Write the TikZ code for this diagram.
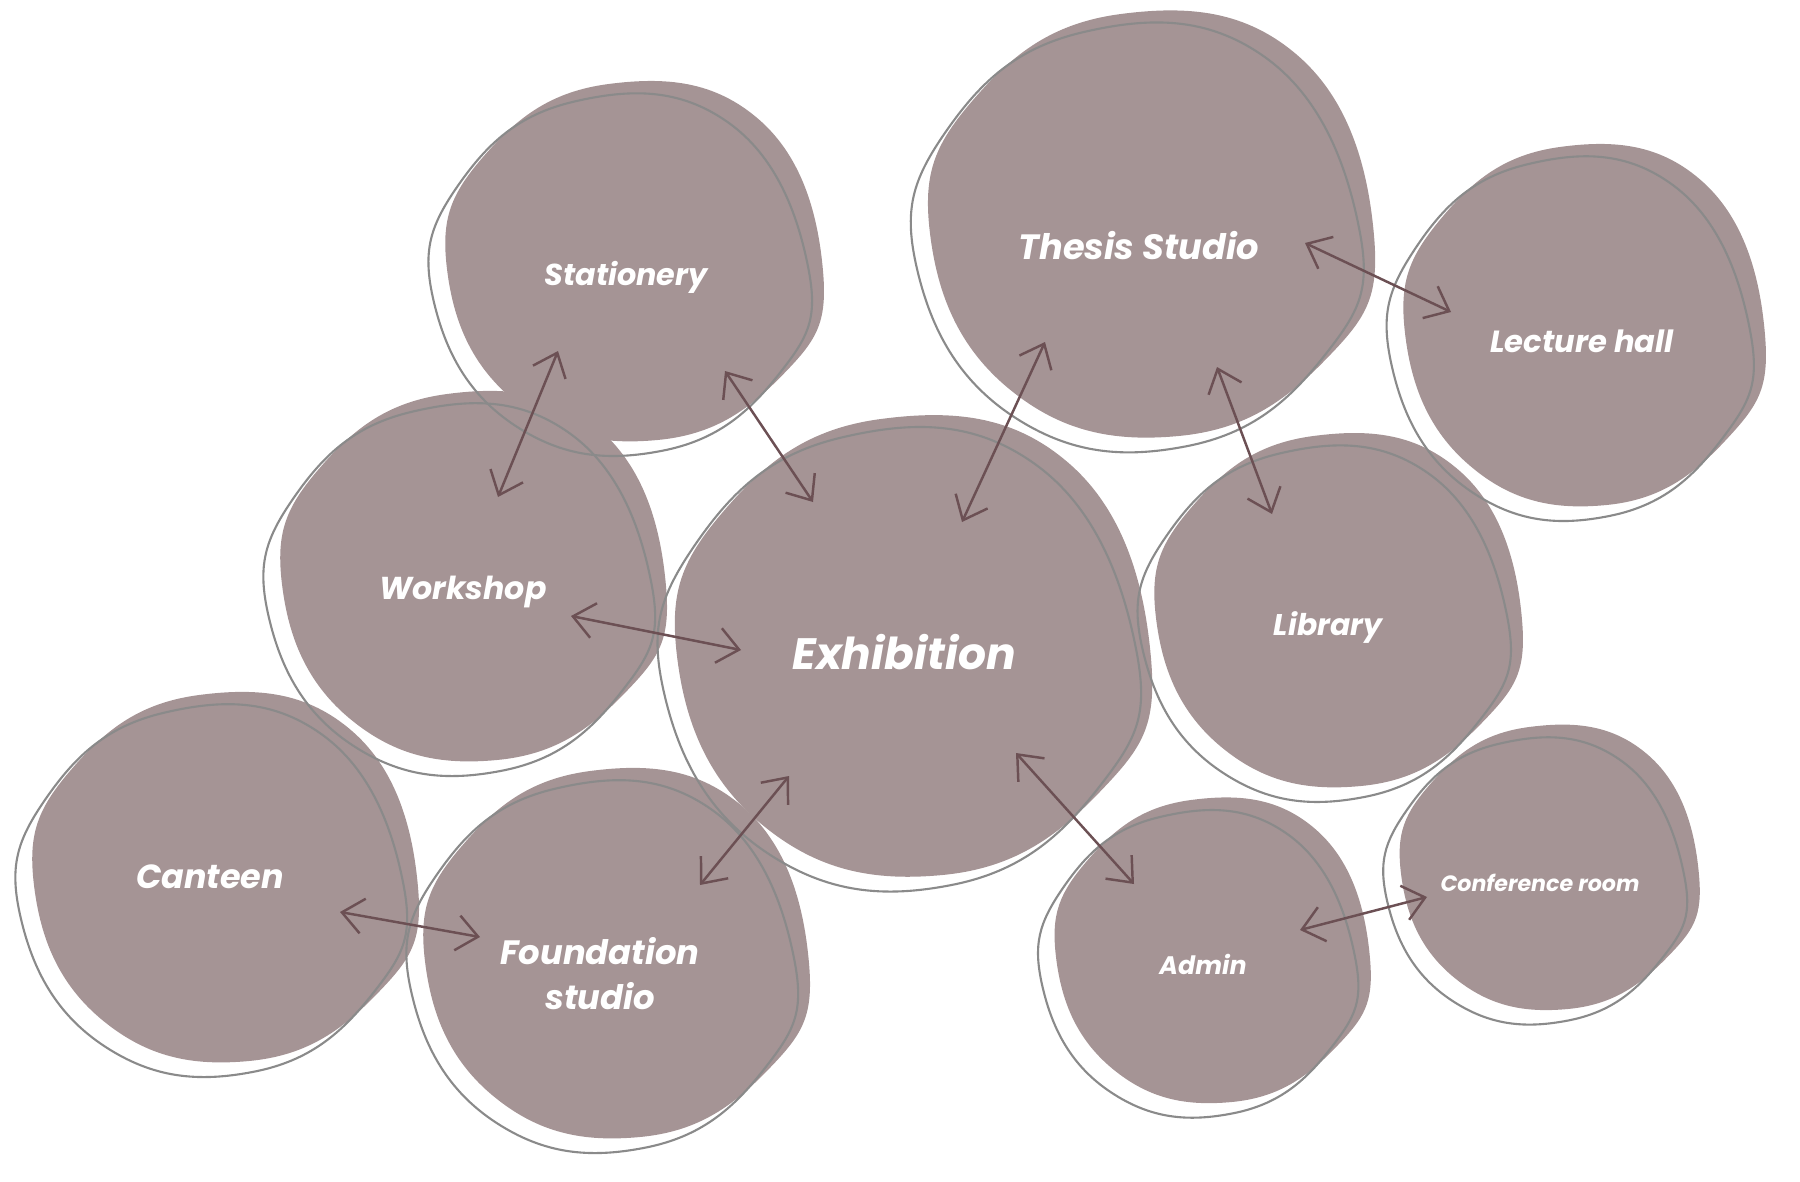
\documentclass[tikz,border=0pt]{standalone}
\usepackage{fontspec}
\setmainfont{Poppins}
\usetikzlibrary{arrows.meta,calc}
\definecolor{blobmauve}{RGB}{165,148,149}
\definecolor{blobgray}{RGB}{138,138,138}
\definecolor{linkbrown}{RGB}{108,80,84}

% one irregular blob, unit size
\newcommand{\blobshape}{plot[smooth cycle,tension=0.75] coordinates
  {(1,0.05) (0.78,0.64) (0.12,1) (-0.64,0.78) (-1,0.04) (-0.8,-0.6) (-0.14,-1) (0.66,-0.8)}}
% #1,#2 centre, #3,#4 radii
\newcommand{\drawblob}[4]{%
  \fill[blobfill,shift={(#1,#2)},xscale=#3,yscale=#4] \blobshape;
}
\newcommand{\drawrim}[4]{%
  \draw[blobrim,shift={(#1-15,#2+14)},xscale=#3,yscale=#4,rotate=6] \blobshape;
}

\begin{document}
\begin{tikzpicture}[x=0.01cm,y=-0.01cm,
  blobfill/.style={fill=blobmauve},
  blobrim/.style={draw=blobgray,line width=0.6pt},
  lbl/.style={text=white,align=center,inner sep=0pt,font=\bfseries\itshape},
  link/.style={draw=linkbrown,line width=0.7pt,{Straight Barb[length=6pt,width=10pt]}-{Straight Barb[length=6pt,width=10pt]}}
]
  \useasboundingbox (0,0) rectangle (1800,1182);

  \drawblob{635}{262}{188}{178}
  \drawblob{1152}{225}{222}{211}
  \drawblob{1585}{326}{180}{179}
  \drawblob{474}{577}{192}{183}
  \drawblob{914}{647}{237}{228}
  \drawblob{1339}{611}{183}{175}
  \drawblob{226}{878}{192}{183}
  \drawblob{617}{954}{192}{183}
  \drawblob{1213}{951}{157}{151}
  \drawblob{1550}{868}{149}{141}

  \drawrim{635}{262}{188}{178}
  \drawrim{1152}{225}{222}{211}
  \drawrim{1585}{326}{180}{179}
  \drawrim{474}{577}{192}{183}
  \drawrim{914}{647}{237}{228}
  \drawrim{1339}{611}{183}{175}
  \drawrim{226}{878}{192}{183}
  \drawrim{617}{954}{192}{183}
  \drawrim{1213}{951}{157}{151}
  \drawrim{1550}{868}{149}{141}

  \node[lbl,font={\fontsize{8.6}{10}\selectfont\bfseries\itshape}] (stationery) at (626,277) {Stationery};
  \node[lbl,font={\fontsize{10}{12}\selectfont\bfseries\itshape}] (thesis) at (1139,246) {Thesis Studio};
  \node[lbl,font={\fontsize{8.7}{10}\selectfont\bfseries\itshape}] (lecture) at (1582,341) {Lecture hall};
  \node[lbl,font={\fontsize{9}{11}\selectfont\bfseries\itshape}] (workshop) at (463,592) {Workshop};
  \node[lbl,font={\fontsize{12.5}{15}\selectfont\bfseries\itshape}] (exhibition) at (904,652) {Exhibition};
  \node[lbl,font={\fontsize{8.5}{10}\selectfont\bfseries\itshape}] (library) at (1328,627) {Library};
  \node[lbl,font={\fontsize{9.5}{11}\selectfont\bfseries\itshape}] (canteen) at (210,877) {Canteen};
  \node[lbl,font={\fontsize{9.6}{12.8}\selectfont\bfseries\itshape}] (foundation) at (600,974) {Foundation\\ studio};
  \node[lbl,font={\fontsize{7.2}{9}\selectfont\bfseries\itshape}] (admin) at (1203,964) {Admin};
  \node[lbl,font={\fontsize{6.3}{8}\selectfont\bfseries\itshape}] (conference) at (1540,883) {Conference room};

  \coordinate (st-ws) at (558,351);
  \coordinate (ws-st) at (498,497);
  \coordinate (st-ex) at (725,371);
  \coordinate (ex-st) at (813,502);
  \coordinate (th-ex) at (1045,342);
  \coordinate (ex-th) at (962,522);
  \coordinate (th-lh) at (1305,243);
  \coordinate (lh-th) at (1451,312);
  \coordinate (th-li) at (1217,367);
  \coordinate (li-th) at (1272,514);
  \coordinate (ws-ex) at (571,616);
  \coordinate (ex-ws) at (741,650);
  \coordinate (ex-fo) at (789,776);
  \coordinate (fo-ex) at (700,885);
  \coordinate (ex-ad) at (1016,753);
  \coordinate (ad-ex) at (1134,884);
  \coordinate (ca-fo) at (340,912);
  \coordinate (fo-ca) at (480,937);
  \coordinate (ad-co) at (1300,930);
  \coordinate (co-ad) at (1427,897);

  \draw[link] (st-ws) -- (ws-st);
  \draw[link] (st-ex) -- (ex-st);
  \draw[link] (th-ex) -- (ex-th);
  \draw[link] (th-lh) -- (lh-th);
  \draw[link] (th-li) -- (li-th);
  \draw[link] (ws-ex) -- (ex-ws);
  \draw[link] (ex-fo) -- (fo-ex);
  \draw[link] (ex-ad) -- (ad-ex);
  \draw[link] (ca-fo) -- (fo-ca);
  \draw[link] (ad-co) -- (co-ad);
\end{tikzpicture}
\end{document}
